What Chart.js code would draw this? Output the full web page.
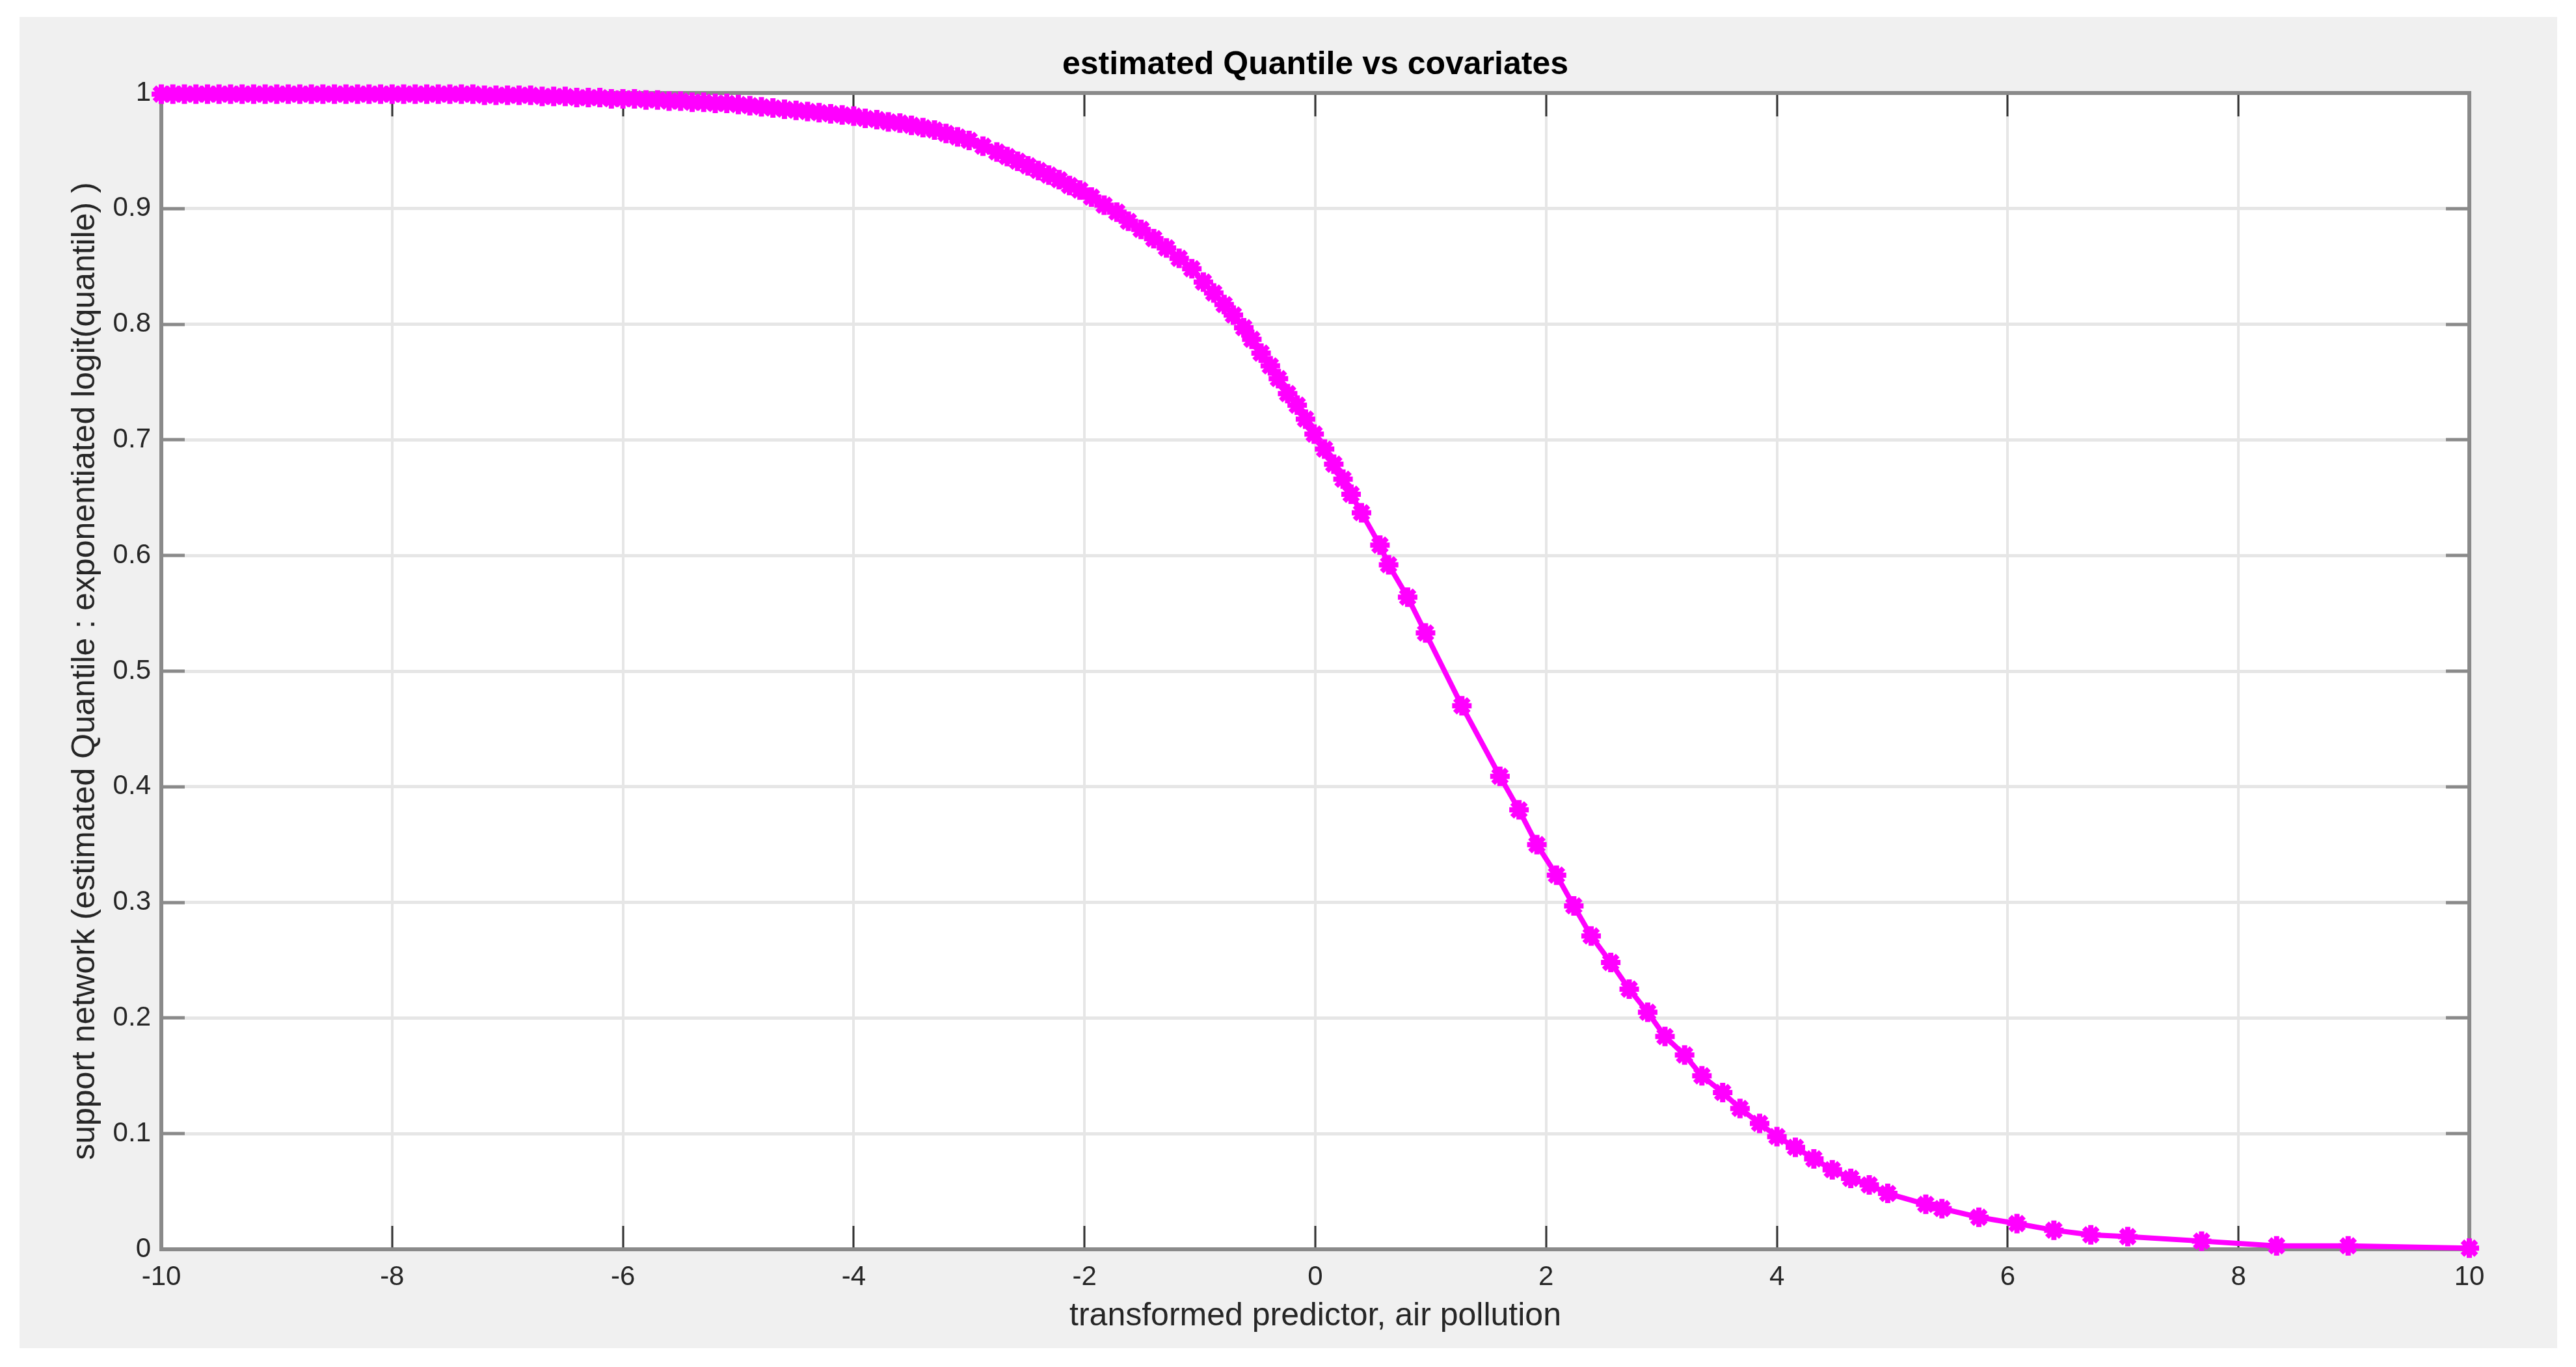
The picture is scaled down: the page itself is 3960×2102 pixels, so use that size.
<!DOCTYPE html>
<html>
<head>
<meta charset="utf-8">
<script src="https://cdn.jsdelivr.net/npm/chart.js@4/dist/chart.umd.min.js"></script>
<style>
  html, body { margin: 0; padding: 0; background: #ffffff; }
  #panel { position: absolute; left: 30px; top: 26px; width: 3901px; height: 2047px; background: #f0f0f0; }
  canvas { display: block; }
</style>
</head>
<body>
<div id="panel"><canvas id="c" width="3901" height="2047"></canvas></div>
<script>
// ---- data ----
const xValues = [
  -10.0,-9.9,-9.8,-9.7,-9.6,-9.5,-9.4,-9.3,-9.2,-9.1,-9.0,-8.9,-8.8,-8.7,-8.6,-8.5,-8.4,-8.3,-8.2,-8.1,
  -8.0,-7.9,-7.8,-7.7,-7.6,-7.5,-7.4,-7.3,-7.2,-7.1,-7.0,-6.9,-6.8,-6.7,-6.6,-6.5,-6.4,-6.3,-6.2,-6.1,
  -6.0,-5.9,-5.8,-5.7,-5.6,-5.5,-5.4,-5.3,-5.2,-5.1,-5.0,-4.9,-4.8,-4.7,-4.6,-4.5,-4.4,-4.3,-4.2,-4.1,
  -4.0,-3.9,-3.8,-3.7,-3.6,-3.5,-3.4,-3.3,-3.2,-3.1,-3.0,-2.88,-2.76,-2.67,-2.58,-2.49,-2.40,-2.31,-2.22,-2.13,
  -2.04,-1.94,-1.83,-1.72,-1.62,-1.51,-1.40,-1.29,-1.18,-1.07,-0.97,-0.88,-0.79,-0.71,-0.62,-0.55,-0.47,-0.39,-0.32,-0.24,
  -0.157,-0.085,-0.01,0.08,0.16,0.24,0.31,0.40,0.56,0.635,0.80,0.955,1.27,1.60,1.765,1.92,2.09,2.24,2.39,2.56,
  2.72,2.88,3.03,3.20,3.35,3.53,3.68,3.85,4.00,4.16,4.32,4.48,4.64,4.80,4.96,5.29,5.43,5.75,6.08,6.40,
  6.72,7.04,7.68,8.33,8.95,10.0
];
const yValues = [
  0.999,0.999,0.999,0.999,0.999,0.999,0.999,0.999,0.999,0.999,0.999,0.999,0.999,0.999,0.999,0.999,0.999,0.999,0.999,0.999,
  0.999,0.999,0.999,0.999,0.999,0.999,0.999,0.999,0.998,0.998,0.998,0.998,0.998,0.997,0.997,0.997,0.996,0.996,0.996,0.995,
  0.995,0.995,0.994,0.994,0.993,0.993,0.992,0.992,0.991,0.991,0.990,0.989,0.988,0.987,0.986,0.985,0.984,0.983,0.982,0.981,
  0.980,0.978,0.977,0.975,0.974,0.972,0.970,0.968,0.965,0.962,0.959,0.954,0.949,0.945,0.941,0.937,0.933,0.929,0.925,0.920,
  0.916,0.910,0.903,0.897,0.889,0.882,0.874,0.866,0.857,0.848,0.8365,0.827,0.817,0.808,0.797,0.787,0.775,0.764,0.753,0.740,
  0.730,0.718,0.705,0.692,0.679,0.666,0.653,0.637,0.609,0.592,0.564,0.533,0.470,0.409,0.380,0.350,0.3236,0.297,0.271,0.248,
  0.225,0.205,0.184,0.168,0.150,0.1356,0.1218,0.1089,0.0975,0.0882,0.0782,0.0688,0.0613,0.0557,0.0483,0.0389,0.0352,0.0277,0.0222,0.0165,
  0.0125,0.011,0.0071,0.003,0.003,0.001
];
const xTickValues = [-10, -8, -6, -4, -2, 0, 2, 4, 6, 8, 10];
const xTickLabels = ['-10', '-8', '-6', '-4', '-2', '0', '2', '4', '6', '8', '10'];
const yTickValues = [0, 0.1, 0.2, 0.3, 0.4, 0.5, 0.6, 0.7, 0.8, 0.9, 1];
const yTickLabels = ['0', '0.1', '0.2', '0.3', '0.4', '0.5', '0.6', '0.7', '0.8', '0.9', '1'];
const titleText = 'estimated Quantile vs covariates';
const xLabel = 'transformed predictor, air pollution';
const yLabel = 'support network (estimated Quantile : exponentiated logit(quantile) )';

const points = xValues.map((x, i) => ({ x: x, y: yValues[i] }));

const FONT = '"Liberation Sans", Arial, Helvetica, sans-serif';

const framePlugin = {
  id: 'frame',
  beforeDraw(chart) {
    const ctx = chart.ctx, a = chart.chartArea;
    ctx.save();
    ctx.fillStyle = '#f0f0f0';
    ctx.fillRect(0, 0, chart.width, chart.height);
    ctx.fillStyle = '#ffffff';
    ctx.fillRect(a.left, a.top, a.right - a.left, a.bottom - a.top);
    ctx.restore();
  },
  beforeDatasetsDraw(chart) {
    const ctx = chart.ctx, a = chart.chartArea;
    const xs = chart.scales.x, ys = chart.scales.y;
    const tl = 36;
    ctx.save();
    ctx.strokeStyle = '#333333';
    ctx.lineWidth = 3;
    ctx.beginPath();
    xTickValues.forEach(v => {
      const px = Math.round(xs.getPixelForValue(v));
      ctx.moveTo(px, a.bottom); ctx.lineTo(px, a.bottom - tl);
      ctx.moveTo(px, a.top); ctx.lineTo(px, a.top + tl);
    });
    ctx.stroke();
    ctx.strokeStyle = '#8a8a8a';
    ctx.lineWidth = 5;
    ctx.beginPath();
    yTickValues.forEach(v => {
      const py = Math.round(ys.getPixelForValue(v));
      ctx.moveTo(a.left, py); ctx.lineTo(a.left + tl, py);
      ctx.moveTo(a.right, py); ctx.lineTo(a.right - tl, py);
    });
    ctx.stroke();
    ctx.strokeStyle = '#8a8a8a';
    ctx.lineWidth = 6;
    ctx.strokeRect(a.left, a.top, a.right - a.left, a.bottom - a.top);
    ctx.restore();
  }
};

new Chart(document.getElementById('c'), {
  type: 'scatter',
  data: {
    datasets: [{
      data: points,
      showLine: true,
      borderColor: '#ff00ff',
      backgroundColor: '#ff00ff',
      borderWidth: 8,
      pointStyle: 'star',
      pointRadius: 15,
      pointBorderWidth: 8,
      pointBorderColor: '#ff00ff',
      pointBackgroundColor: '#ff00ff',
      pointHoverRadius: 15,
      tension: 0,
      clip: false
    }]
  },
  options: {
    responsive: false,
    animation: false,
    devicePixelRatio: 1,
    layout: { padding: { left: 0, top: 0, right: 135, bottom: 0 } },
    plugins: {
      legend: { display: false },
      tooltip: { enabled: false },
      title: {
        display: true,
        text: titleText,
        fullSize: false,
        color: '#000000',
        font: { family: FONT, size: 50, weight: 'bold' },
        padding: { top: 44, bottom: 13 }
      }
    },
    scales: {
      x: {
        type: 'linear',
        min: -10, max: 10,
        afterBuildTicks: s => { s.ticks = xTickValues.map(v => ({ value: v })); },
        afterFit: s => { s.height = 152; },
        grid: { color: '#e6e6e6', lineWidth: 4, drawTicks: false },
        border: { display: false },
        ticks: {
          padding: 18,
          color: '#262626',
          font: { family: FONT, size: 42 },
          maxRotation: 0,
          autoSkip: false,
          callback: (v) => xTickLabels[xTickValues.indexOf(v)]
        },
        title: {
          display: true,
          text: xLabel,
          color: '#262626',
          font: { family: FONT, size: 50 },
          padding: { top: 0, bottom: 19 }
        }
      },
      y: {
        type: 'linear',
        min: 0, max: 1,
        afterBuildTicks: s => { s.ticks = yTickValues.map(v => ({ value: v })); },
        afterFit: s => { s.width = 218; },
        grid: { color: '#e6e6e6', lineWidth: 5, drawTicks: false },
        border: { display: false },
        ticks: {
          padding: 16,
          color: '#262626',
          font: { family: FONT, size: 42 },
          autoSkip: false,
          callback: (v) => yTickLabels[yTickValues.findIndex(t => Math.abs(t - v) < 1e-9)]
        },
        title: {
          display: true,
          text: yLabel,
          color: '#262626',
          font: { family: FONT, size: 50 },
          padding: { top: 71, bottom: 0 }
        }
      }
    }
  },
  plugins: [framePlugin]
});
</script>
</body>
</html>
